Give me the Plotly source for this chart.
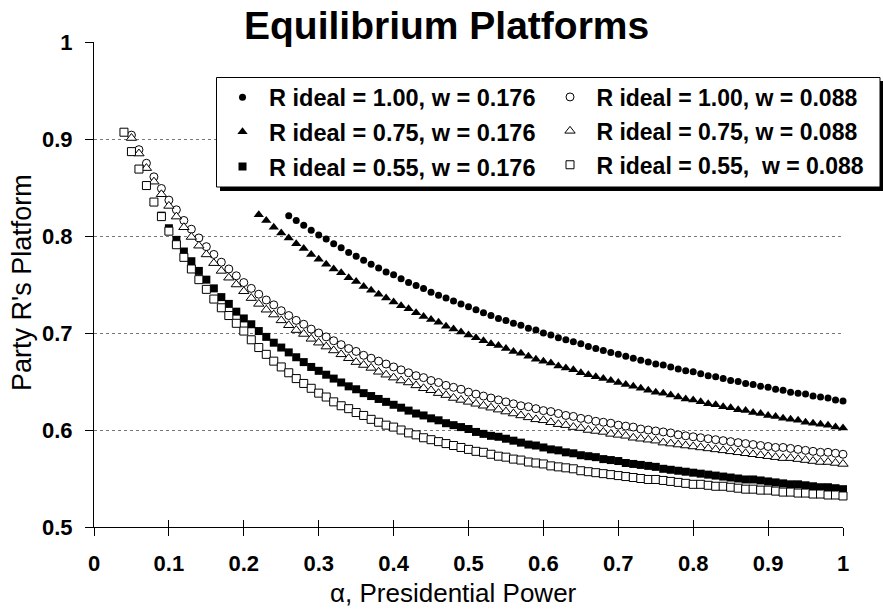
import plotly.graph_objects as go

# ---------------- data ----------------
ALPHA = [0.04, 0.05, 0.06, 0.07, 0.08, 0.09, 0.10, 0.11, 0.12, 0.13,
         0.14, 0.15, 0.16, 0.17, 0.18, 0.19, 0.20, 0.21, 0.22, 0.23,
         0.24, 0.25, 0.26, 0.27, 0.28, 0.29, 0.30, 0.31, 0.32, 0.33,
         0.34, 0.35, 0.36, 0.37, 0.38, 0.39, 0.40, 0.41, 0.42, 0.43,
         0.44, 0.45, 0.46, 0.47, 0.48, 0.49, 0.50, 0.51, 0.52, 0.53,
         0.54, 0.55, 0.56, 0.57, 0.58, 0.59, 0.60, 0.61, 0.62, 0.63,
         0.64, 0.65, 0.66, 0.67, 0.68, 0.69, 0.70, 0.71, 0.72, 0.73,
         0.74, 0.75, 0.76, 0.77, 0.78, 0.79, 0.80, 0.81, 0.82, 0.83,
         0.84, 0.85, 0.86, 0.87, 0.88, 0.89, 0.90, 0.91, 0.92, 0.93,
         0.94, 0.95, 0.96, 0.97, 0.98, 0.99, 1.00]

# R ideal = 1.00, w = 0.176 (filled circles), alpha 0.26 .. 1.00
R100_W176_START = 0.26
R100_W176 = [0.821, 0.816, 0.811, 0.806, 0.801, 0.797, 0.792, 0.788, 0.783, 0.779,
             0.775, 0.771, 0.767, 0.763, 0.760, 0.756, 0.752, 0.749, 0.746, 0.742,
             0.739, 0.736, 0.733, 0.730, 0.727, 0.724, 0.721, 0.718, 0.715, 0.713,
             0.710, 0.708, 0.705, 0.703, 0.700, 0.698, 0.695, 0.693, 0.691, 0.689,
             0.686, 0.684, 0.682, 0.680, 0.678, 0.676, 0.674, 0.672, 0.670, 0.668,
             0.667, 0.665, 0.663, 0.661, 0.660, 0.658, 0.656, 0.655, 0.653, 0.651,
             0.650, 0.648, 0.647, 0.645, 0.644, 0.642, 0.641, 0.639, 0.638, 0.637,
             0.635, 0.634, 0.633, 0.631, 0.630]

# R ideal = 0.75, w = 0.176 (filled triangles), alpha 0.22 .. 1.00
R075_W176_START = 0.22
R075_W176 = [0.822, 0.816, 0.809, 0.803, 0.798, 0.792, 0.787, 0.781, 0.776, 0.771,
             0.766, 0.762, 0.757, 0.753, 0.748, 0.744, 0.740, 0.736, 0.732, 0.728,
             0.725, 0.721, 0.717, 0.714, 0.711, 0.707, 0.704, 0.701, 0.698, 0.695,
             0.692, 0.689, 0.687, 0.684, 0.681, 0.679, 0.676, 0.673, 0.671, 0.669,
             0.666, 0.664, 0.662, 0.659, 0.657, 0.655, 0.653, 0.651, 0.649, 0.647,
             0.645, 0.643, 0.641, 0.639, 0.638, 0.636, 0.634, 0.632, 0.631, 0.629,
             0.627, 0.626, 0.624, 0.623, 0.621, 0.620, 0.618, 0.617, 0.615, 0.614,
             0.612, 0.611, 0.610, 0.608, 0.607, 0.606, 0.605, 0.603, 0.602]

# R ideal = 0.55, w = 0.176 (filled squares), alpha 0.09 .. 1.00
R055_W176_START = 0.09
R055_W176 = [0.821, 0.808, 0.796, 0.784, 0.774, 0.764, 0.755, 0.746, 0.737, 0.730,
             0.722, 0.715, 0.709, 0.702, 0.696, 0.690, 0.685, 0.680, 0.675, 0.670,
             0.665, 0.661, 0.657, 0.653, 0.649, 0.645, 0.642, 0.638, 0.635, 0.632,
             0.629, 0.626, 0.623, 0.620, 0.617, 0.615, 0.612, 0.610, 0.607, 0.605,
             0.603, 0.601, 0.598, 0.596, 0.594, 0.593, 0.591, 0.589, 0.587, 0.585,
             0.584, 0.582, 0.580, 0.579, 0.577, 0.576, 0.574, 0.573, 0.572, 0.570,
             0.569, 0.568, 0.566, 0.565, 0.564, 0.563, 0.562, 0.560, 0.559, 0.558,
             0.557, 0.556, 0.555, 0.554, 0.553, 0.552, 0.551, 0.550, 0.549, 0.549,
             0.548, 0.547, 0.546, 0.545, 0.544, 0.544, 0.543, 0.542, 0.541, 0.541,
             0.540, 0.539]

# R ideal = 1.00, w = 0.088 (open circles), alpha 0.05 .. 1.00
R100_W088_START = 0.05
R100_W088 = [0.904, 0.889, 0.875, 0.861, 0.849, 0.837, 0.827, 0.816, 0.807, 0.798,
             0.789, 0.781, 0.773, 0.766, 0.759, 0.752, 0.746, 0.740, 0.734, 0.729,
             0.723, 0.718, 0.713, 0.709, 0.704, 0.700, 0.696, 0.692, 0.688, 0.684,
             0.681, 0.677, 0.674, 0.671, 0.668, 0.665, 0.662, 0.659, 0.656, 0.654,
             0.651, 0.649, 0.646, 0.644, 0.642, 0.639, 0.637, 0.635, 0.633, 0.631,
             0.629, 0.627, 0.625, 0.624, 0.622, 0.620, 0.619, 0.617, 0.615, 0.614,
             0.612, 0.611, 0.609, 0.608, 0.607, 0.605, 0.604, 0.603, 0.601, 0.600,
             0.599, 0.598, 0.597, 0.595, 0.594, 0.593, 0.592, 0.591, 0.590, 0.589,
             0.588, 0.587, 0.586, 0.585, 0.584, 0.583, 0.582, 0.582, 0.581, 0.580,
             0.579, 0.578, 0.577, 0.577, 0.576, 0.575]

# R ideal = 0.75, w = 0.088 (open triangles), alpha 0.05 .. 1.00
R075_W088_START = 0.05
R075_W088 = [0.901, 0.885, 0.870, 0.856, 0.843, 0.831, 0.820, 0.809, 0.799, 0.790,
             0.781, 0.772, 0.764, 0.757, 0.750, 0.743, 0.736, 0.730, 0.724, 0.719,
             0.713, 0.708, 0.703, 0.699, 0.694, 0.690, 0.686, 0.682, 0.678, 0.674,
             0.670, 0.667, 0.664, 0.660, 0.657, 0.654, 0.651, 0.649, 0.646, 0.643,
             0.641, 0.638, 0.636, 0.633, 0.631, 0.629, 0.627, 0.625, 0.623, 0.621,
             0.619, 0.617, 0.615, 0.613, 0.611, 0.610, 0.608, 0.606, 0.605, 0.603,
             0.602, 0.600, 0.599, 0.598, 0.596, 0.595, 0.594, 0.592, 0.591, 0.590,
             0.589, 0.587, 0.586, 0.585, 0.584, 0.583, 0.582, 0.581, 0.580, 0.579,
             0.578, 0.577, 0.576, 0.575, 0.574, 0.573, 0.572, 0.571, 0.571, 0.570,
             0.569, 0.568, 0.567, 0.567, 0.566, 0.565]

# R ideal = 0.55, w = 0.088 (open squares), alpha 0.04 .. 1.00
R055_W088_START = 0.04
R055_W088 = [0.907, 0.887, 0.869, 0.852, 0.835, 0.820, 0.805, 0.791, 0.778, 0.766,
             0.755, 0.745, 0.735, 0.726, 0.718, 0.710, 0.702, 0.693, 0.685, 0.678,
             0.671, 0.665, 0.659, 0.653, 0.648, 0.643, 0.638, 0.634, 0.629, 0.625,
             0.622, 0.618, 0.615, 0.611, 0.608, 0.605, 0.603, 0.600, 0.597, 0.595,
             0.592, 0.590, 0.588, 0.586, 0.584, 0.582, 0.580, 0.578, 0.577, 0.575,
             0.573, 0.572, 0.570, 0.569, 0.567, 0.566, 0.565, 0.563, 0.562, 0.561,
             0.560, 0.558, 0.557, 0.556, 0.555, 0.554, 0.553, 0.552, 0.551, 0.550,
             0.549, 0.549, 0.548, 0.547, 0.546, 0.545, 0.544, 0.544, 0.543, 0.542,
             0.542, 0.541, 0.540, 0.539, 0.539, 0.538, 0.538, 0.537, 0.536, 0.536,
             0.535, 0.535, 0.534, 0.534, 0.533, 0.533, 0.532]

X_TICKS = [0, 0.1, 0.2, 0.3, 0.4, 0.5, 0.6, 0.7, 0.8, 0.9, 1]
Y_TICKS = [0.5, 0.6, 0.7, 0.8, 0.9, 1]
Y_GRID = [0.6, 0.7, 0.8, 0.9]

TITLE = "Equilibrium Platforms"
X_TITLE = "α, Presidential Power"
Y_TITLE = "Party R's Platform"

# ---------------- figure ----------------
FONT = "Liberation Sans, Arial, Helvetica, sans-serif"
NB = "\u00a0"


def alphas(start, ys):
    i = ALPHA.index(start)
    return ALPHA[i:i + len(ys)]


series = [
    # name, start, values, symbol, size, fill, legend, rank
    ("R ideal = 1.00, w = 0.176", R100_W176_START, R100_W176, "circle", 7, "black", "legend", 1),
    ("R ideal = 0.75, w = 0.176", R075_W176_START, R075_W176, "triangle-up", 9, "black", "legend", 2),
    ("R ideal = 0.55, w = 0.176", R055_W176_START, R055_W176, "square", 8, "black", "legend", 3),
    ("R ideal = 1.00, w = 0.088", R100_W088_START, R100_W088, "circle", 8, "white", "legend2", 1),
    ("R ideal = 0.75, w = 0.088", R075_W088_START, R075_W088, "triangle-up", 9, "white", "legend2", 2),
    ("R ideal = 0.55,  w = 0.088", R055_W088_START, R055_W088, "square", 8, "white", "legend2", 3),
]

fig = go.Figure()
for k, (name, start, ys, sym, size, fill, leg, rank) in enumerate(series):
    label = name.replace(" ", NB)
    if leg == "legend2":
        label = NB + label
    fig.add_trace(go.Scatter(
        x=alphas(start, ys), y=ys, mode="markers", name=label,
        legend=leg, legendrank=rank, legendgroup="g%d" % k,
        cliponaxis=False,
        marker=dict(symbol=sym, size=size, color=fill,
                    line=dict(color="black", width=0 if fill == "black" else 1)),
    ))

# helper (empty) trace so that the overlay axes are drawn
fig.add_trace(go.Scatter(x=[], y=[], xaxis="x2", yaxis="y2", showlegend=False, hoverinfo="skip"))

fig.update_layout(
    width=883, height=610, autosize=False,
    margin=dict(l=94, r=883 - 843, t=42, b=610 - 527),
    paper_bgcolor="white", plot_bgcolor="white",
    font=dict(family=FONT, color="black"),
    showlegend=True,
    xaxis=dict(range=[0, 1], tickvals=X_TICKS, ticks="outside", ticklen=8, tickcolor="black",
               tickwidth=1, showline=True, linecolor="black", linewidth=1, showgrid=False,
               zeroline=False, tickfont=dict(family=FONT, size=22, weight="bold"),
               ticklabelstandoff=9),
    xaxis2=dict(range=[0, 1], overlaying="x", anchor="y", side="bottom", tickvals=X_TICKS,
                ticks="inside", ticklen=7, tickcolor="black", tickwidth=1, showline=False,
                showgrid=False, zeroline=False, showticklabels=False),
    yaxis=dict(range=[0.5, 1], tickvals=Y_TICKS, ticks="outside", ticklen=8, tickcolor="black",
               tickwidth=1, showline=True, linecolor="black", linewidth=1, showgrid=False,
               zeroline=False, tickfont=dict(family=FONT, size=22, weight="bold"),
               ticklabelstandoff=8),
    yaxis2=dict(range=[0.5, 1], overlaying="y", anchor="x", side="left", tickvals=Y_GRID,
                ticks="", showticklabels=False, showline=False, zeroline=False,
                showgrid=True, gridcolor="#777777", gridwidth=1, griddash="dot"),
    legend=dict(x=(216 - 94) / 749, y=(527 - 75.5) / 485, xanchor="left", yanchor="top",
                bgcolor="rgba(0,0,0,0)", borderwidth=0, itemwidth=43, tracegroupgap=1,
                font=dict(family=FONT, size=23.5, weight="bold")),
    legend2=dict(x=(550 - 94) / 749, y=(527 - 75.5) / 485, xanchor="left", yanchor="top",
                 bgcolor="rgba(0,0,0,0)", borderwidth=0, itemwidth=30, tracegroupgap=1,
                 font=dict(family=FONT, size=23, weight="bold")),
)

W = 749.0
H = 485.0


def px(xp):
    return (xp - 94) / W


def py(yp):
    return (527 - yp) / H


# legend box with drop shadow
fig.add_shape(type="rect", xref="paper", yref="paper", layer="above",
              x0=px(220), x1=px(884), y0=py(191), y1=py(81),
              fillcolor="black", line=dict(width=0))
fig.add_shape(type="rect", xref="paper", yref="paper", layer="above",
              x0=px(216.5), x1=px(880), y0=py(187), y1=py(77.5),
              fillcolor="white", line=dict(color="black", width=1))

fig.add_annotation(text="<b>%s</b>" % TITLE, xref="paper", yref="paper",
                   x=px(446), y=py(26), xanchor="center", yanchor="middle", showarrow=False,
                   font=dict(family=FONT, size=39, color="black"))
fig.add_annotation(text=X_TITLE, xref="paper", yref="paper",
                   x=px(453), y=py(593), xanchor="center", yanchor="middle", showarrow=False,
                   font=dict(family=FONT, size=26, color="black"))
fig.add_annotation(text=Y_TITLE, xref="paper", yref="paper", textangle=-90,
                   x=px(22), y=py(283), xanchor="center", yanchor="middle", showarrow=False,
                   font=dict(family=FONT, size=27, color="black"))

# remove the browser's default page margin so the figure fills the window
fig.write_html("out.html", config={"displayModeBar": False},
               post_script="document.body.style.margin='0';")
